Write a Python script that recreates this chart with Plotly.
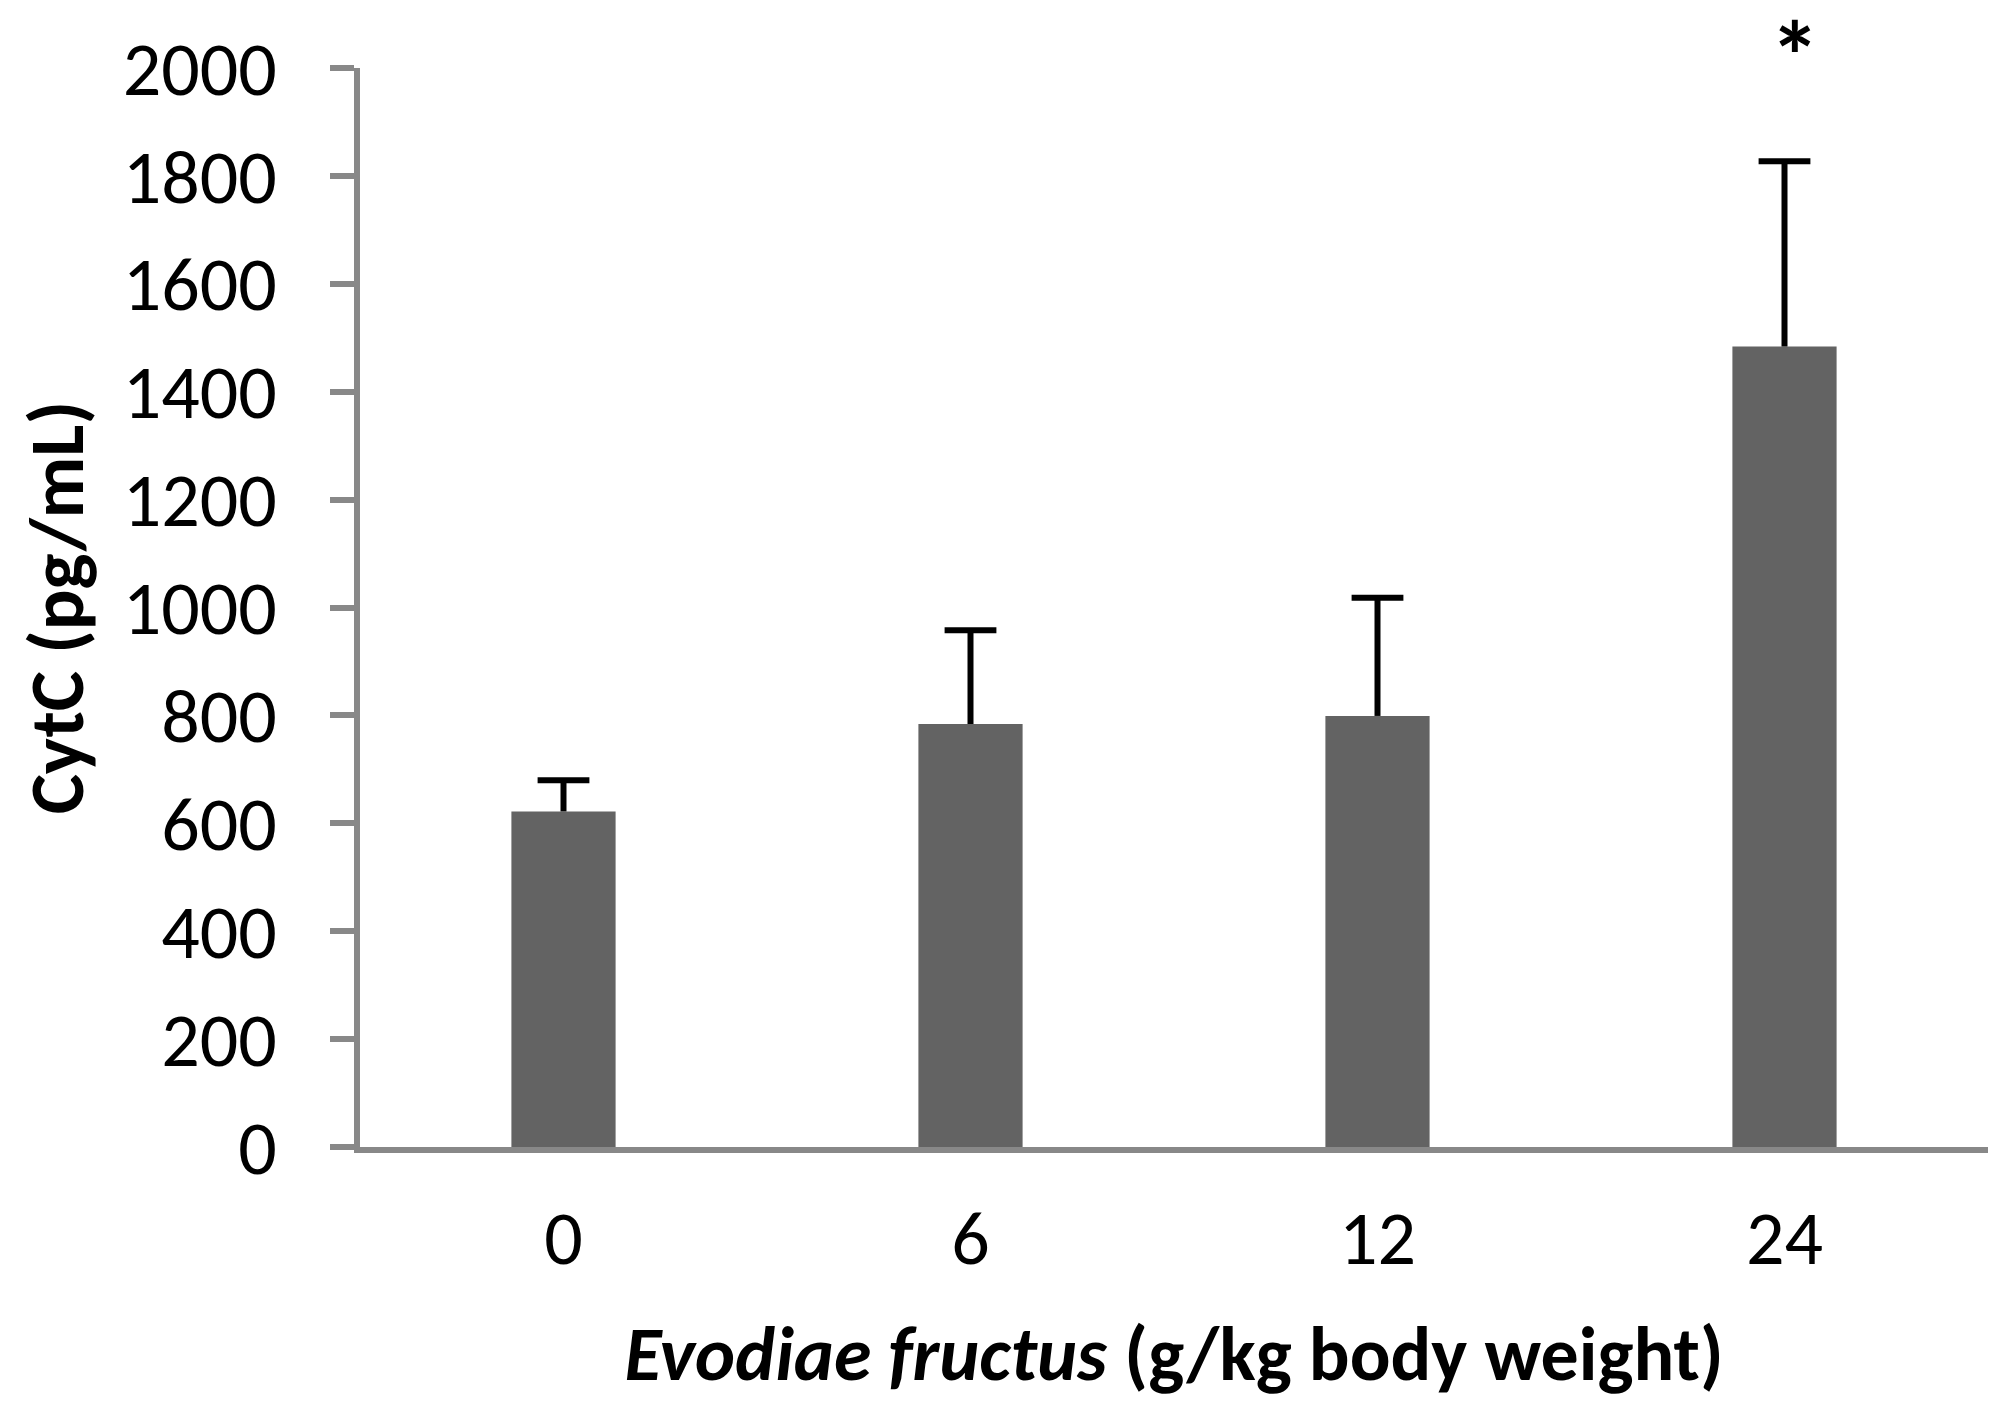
'''
CytC 柱状图复刻：Evodiae fructus 不同剂量下的 CytC 含量（均值 + 上侧误差线）
'''

import plotly.graph_objects as go

# ========== 数据 ==========
doses = ['0', '6', '12', '24']
cytc_mean = [622, 784, 799, 1484]
cytc_err = [58, 174, 219, 343]
y_ticks = [0, 200, 400, 600, 800, 1000, 1200, 1400, 1600, 1800, 2000]
sig_dose = '24'
sig_mark = '*'
sig_level = 2036

# ========== 样式 ==========
FONT = 'Carlito, Calibri, Lato, sans-serif'
BAR_COLOR = '#636363'
AXIS_COLOR = '#888888'

fig = go.Figure()
# 柱子 + 误差线竖杆（只画上侧，不要两端横杠）
fig.add_trace(go.Bar(
    x=doses, y=cytc_mean,
    marker=dict(color=BAR_COLOR, line=dict(width=0)),
    error_y=dict(type='data', symmetric=False, array=cytc_err,
                 arrayminus=[0] * len(cytc_err),
                 color='black', thickness=6, width=0),
    showlegend=False,
))
# 误差线顶部横杠
err_top = [m + e for m, e in zip(cytc_mean, cytc_err)]
fig.add_trace(go.Scatter(
    x=doses, y=err_top, mode='markers',
    marker=dict(symbol='line-ew', size=37, color='black',
                line=dict(color='black', width=6)),
    showlegend=False, hoverinfo='skip',
))

# 显著性标记：超出y轴范围，用 y domain 比例定位
fig.add_annotation(x=doses.index(sig_dose), xref='x',
                   y=sig_level / y_ticks[-1], yref='y domain',
                   text=sig_mark, showarrow=False,
                   xanchor='center', yanchor='middle', xshift=10, yshift=-8,
                   font=dict(family=FONT, size=100, color='black', weight='bold'))

fig.update_layout(
    width=2016, height=1419,
    margin=dict(l=352, r=36, t=60, b=280),
    paper_bgcolor='white', plot_bgcolor='white',
    bargap=0.744,
    font=dict(family=FONT, size=76, color='black'),
    xaxis=dict(
        type='category',
        showline=True, linecolor=AXIS_COLOR, linewidth=6,
        ticks='', showgrid=False, zeroline=False,
        tickfont=dict(family=FONT, size=76, color='black'),
        ticklabelstandoff=20,
        title=dict(text='<i>Evodiae fructus</i> (g/kg body weight)',
                   font=dict(family=FONT, size=76, color='black', weight='bold'),
                   standoff=46),
    ),
    yaxis=dict(
        range=[0, 2000], tickvals=y_ticks,
        showline=True, linecolor=AXIS_COLOR, linewidth=6,
        ticks='outside', ticklen=24, tickwidth=6, tickcolor=AXIS_COLOR,
        showgrid=False, zeroline=False,
        tickfont=dict(family=FONT, size=76, color='black'),
        ticklabelstandoff=38,
        title=dict(text='CytC (pg/mL)',
                   font=dict(family=FONT, size=76, color='black', weight='bold'),
                   standoff=16),
    ),
)

fig.write_html('out.html')
